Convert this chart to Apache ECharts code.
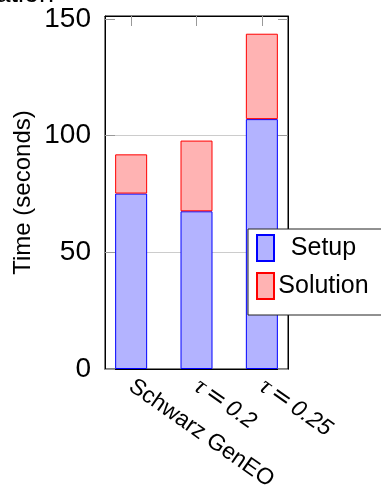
<!DOCTYPE html>
<html>
<head>
<meta charset="utf-8">
<script src="https://cdn.jsdelivr.net/npm/echarts@6/dist/echarts.min.js"></script>
<style>
  html, body { margin: 0; padding: 0; background: #fff; }
  #chart { width: 381px; height: 490px; }
</style>
</head>
<body>
<div id="chart"></div>
<script>
// Method labels along the x axis
const categories = ['Schwarz GenEO', 'τ = 0.2', 'τ = 0.25'];
// Time spent in each phase (seconds)
const setupTimes = [75.2, 67.6, 107.1];
const solutionTimes = [16.8, 30.3, 36.6];
// Y axis ticks
const yTicks = [0, 50, 100, 150];

const FONT = '"Liberation Sans", Arial, sans-serif';
const Y_MAX = 151.3;
const positions = categories.map((_, i) => i);

const chart = echarts.init(document.getElementById('chart'), null, { renderer: 'canvas' });

const tickStyle = { color: '#999999', width: 1 };

// Rows are [time, category position]; the time column comes first so the
// stack accumulates along the vertical axis.
const toRows = values => values.map((v, i) => [v, positions[i]]);

// "τ = 0.2" -> italic τ, wide "=", oblique digits
function tickLabel(v) {
  const s = categories[Math.round(v)] || '';
  const m = s.match(/^τ = (.*)$/);
  return m ? '{m|τ}{e|=}{d|' + m[1] + '}' : s;
}

chart.setOption({
  animation: false,
  title: {
    text: 'Computation',
    right: 322,
    top: -24,
    textStyle: { fontFamily: FONT, fontSize: 27, fontWeight: 'normal', color: '#000' }
  },
  grid: {
    left: 105, top: 16, width: 183, height: 353, outerBoundsMode: 'none',
    show: true, borderColor: '#000', borderWidth: 1, backgroundColor: 'transparent'
  },
  legend: {
    orient: 'vertical',
    left: 248, top: 229,
    backgroundColor: '#fff',
    borderColor: '#222', borderWidth: 1, borderRadius: 0,
    padding: [5, 60, 15, 8],
    itemWidth: 17, itemHeight: 26, itemGap: 10,
    icon: 'rect',
    formatter: name => '{t|' + name + '}',
    textStyle: {
      fontFamily: FONT, fontSize: 25, color: '#000',
      rich: { t: { width: 89, align: 'center', fontFamily: FONT, fontSize: 25, color: '#000' } }
    },
    data: ['Setup', 'Solution']
  },
  xAxis: [
    {
      type: 'value', position: 'bottom',
      min: -0.4, max: 2.4,
      axisLine: { show: true, onZero: false, lineStyle: { color: '#000' } },
      axisTick: { show: false },
      splitLine: { show: false },
      axisLabel: {
        customValues: positions,
        rotate: -35,
        margin: 15,
        fontFamily: FONT, fontSize: 23, color: '#000',
        formatter: tickLabel,
        rich: {
          m: { fontFamily: '"Liberation Serif", serif', fontStyle: 'italic', fontSize: 25, color: '#000' },
          e: { fontFamily: '"DejaVu Sans", sans-serif', fontSize: 25, color: '#000', padding: [0, 4] },
          d: { fontFamily: FONT, fontStyle: 'italic', fontSize: 23, color: '#000' }
        }
      }
    },
    {
      type: 'value', position: 'top',
      min: -0.4, max: 2.4,
      axisLine: { show: true, onZero: false, lineStyle: { color: '#000' } },
      axisTick: { show: true, inside: true, length: 10, customValues: positions, lineStyle: tickStyle },
      axisLabel: { show: false },
      splitLine: { show: false }
    }
  ],
  yAxis: [
    {
      type: 'value', position: 'left',
      min: 0, max: Y_MAX, interval: 50,
      name: 'Time (seconds)', nameLocation: 'middle', nameGap: 70,
      nameTextStyle: { fontFamily: FONT, fontSize: 24, color: '#000' },
      axisLine: { show: true, onZero: false, lineStyle: { color: '#000' } },
      axisTick: { show: true, inside: true, length: 10, customValues: yTicks, lineStyle: tickStyle },
      axisLabel: {
        customValues: yTicks,
        margin: 14,
        fontFamily: FONT, fontSize: 28, color: '#000'
      },
      splitLine: {
        show: true,
        lineStyle: { color: ['rgba(0,0,0,0)', '#cccccc', '#cccccc', 'rgba(0,0,0,0)', 'rgba(0,0,0,0)'], width: 1 }
      }
    },
    {
      type: 'value', position: 'right',
      min: 0, max: Y_MAX, interval: 50,
      axisLine: { show: true, onZero: false, lineStyle: { color: '#000' } },
      axisTick: { show: true, inside: true, length: 10, customValues: yTicks, lineStyle: tickStyle },
      axisLabel: { show: false },
      splitLine: { show: false }
    }
  ],
  series: [
    {
      name: 'Setup', type: 'bar', stack: 'time',
      xAxisIndex: 0, yAxisIndex: 0,
      barWidth: 32,
      encode: { x: 1, y: 0 },
      data: toRows(setupTimes),
      itemStyle: { color: '#b3b3ff', borderColor: '#0000ff', borderWidth: 1 }
    },
    {
      name: 'Solution', type: 'bar', stack: 'time',
      xAxisIndex: 0, yAxisIndex: 0,
      barWidth: 32,
      encode: { x: 1, y: 0 },
      data: toRows(solutionTimes),
      itemStyle: { color: '#ffb3b3', borderColor: '#ff0000', borderWidth: 1 }
    }
  ]
});
</script>
</body>
</html>
